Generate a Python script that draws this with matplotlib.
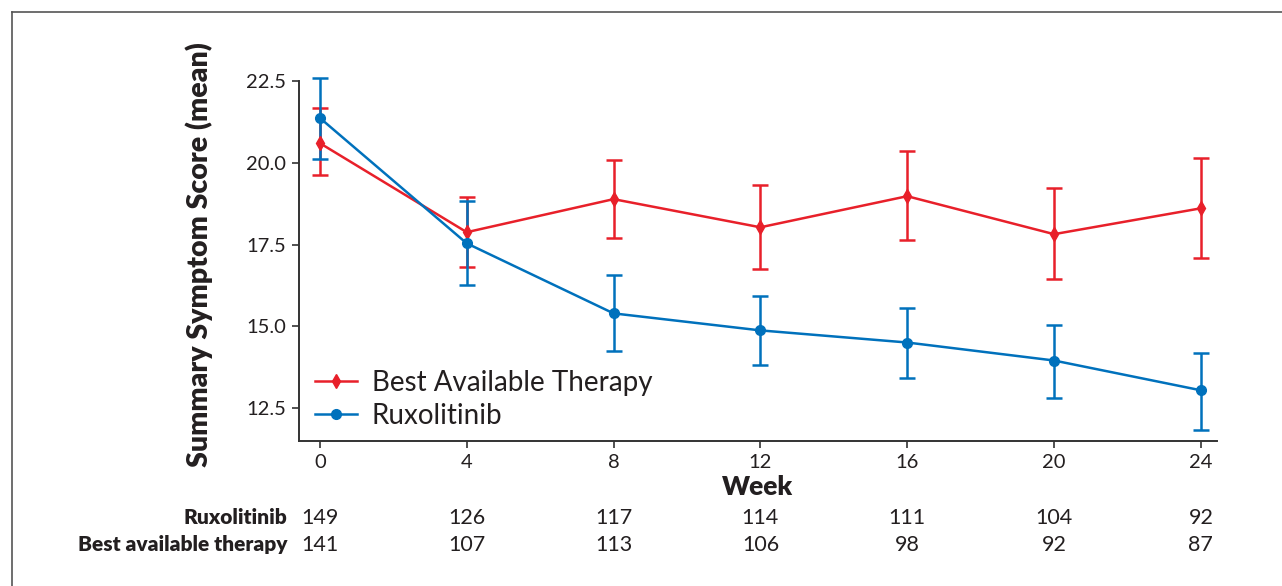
import matplotlib
matplotlib.use('Agg')
import matplotlib.pyplot as plt
from matplotlib.lines import Line2D

plt.rcParams['font.family'] = ['Lato', 'DejaVu Sans']

# Data
weeks = [0, 4, 8, 12, 16, 20, 24]

rux_mean = [21.37, 17.54, 15.40, 14.88, 14.51, 13.96, 13.05]
rux_upper = [22.59, 18.83, 16.56, 15.92, 15.55, 15.06, 14.18]
rux_lower = [20.11, 16.26, 14.24, 13.81, 13.44, 12.80, 11.85]

bat_mean = [20.60, 17.88, 18.89, 18.03, 18.98, 17.82, 18.61]
bat_upper = [21.67, 18.95, 20.08, 19.32, 20.36, 19.23, 20.14]
bat_lower = [19.62, 16.82, 17.70, 16.75, 17.63, 16.44, 17.08]

rux_n = [149, 126, 117, 114, 111, 104, 92]
bat_n = [141, 107, 113, 106, 98, 92, 87]

yticks = [12.5, 15.0, 17.5, 20.0, 22.5]

red = '#E8202A'
blue = '#0071BC'
dark = '#231F20'

fig = plt.figure(figsize=(12.82, 5.86), dpi=100)
ax = fig.add_axes([0.2332, 0.2474, 0.9493 - 0.2332, 0.8618 - 0.2474])

# frame around the figure (top and left edges visible)
fig.add_artist(Line2D([12 / 1282, 1.0], [1 - 12 / 586, 1 - 12 / 586],
                      transform=fig.transFigure, color='#555555', lw=1.2))
fig.add_artist(Line2D([12 / 1282, 12 / 1282], [0.0, 1 - 12 / 586],
                      transform=fig.transFigure, color='#555555', lw=1.2))

bat_err = [[m - l for m, l in zip(bat_mean, bat_lower)],
           [u - m for m, u in zip(bat_mean, bat_upper)]]
rux_err = [[m - l for m, l in zip(rux_mean, rux_lower)],
           [u - m for m, u in zip(rux_mean, rux_upper)]]

eb1 = ax.errorbar(weeks, bat_mean, yerr=bat_err, color=red, lw=1.8,
                  marker='d', markersize=7, capsize=6, capthick=1.8,
                  elinewidth=1.8, clip_on=False)
eb2 = ax.errorbar(weeks, rux_mean, yerr=rux_err, color=blue, lw=1.8,
                  marker='o', markersize=7, capsize=6, capthick=1.8,
                  elinewidth=1.8, clip_on=False)
for eb in (eb1, eb2):
    for art in eb.lines[1] + eb.lines[2]:
        art.set_clip_on(False)

ax.set_xlim(-0.57, 24.44)
ax.set_ylim(11.5, 22.5)
ax.set_xticks(weeks)
ax.set_yticks(yticks)
ax.set_yticklabels([f'{v:.1f}' for v in yticks])

for s in ['top', 'right']:
    ax.spines[s].set_visible(False)
for s in ['left', 'bottom']:
    ax.spines[s].set_color('#333333')
    ax.spines[s].set_linewidth(1.4)
ax.tick_params(direction='out', length=5, width=1.2, color='#333333',
               labelsize=14.5, labelcolor=dark, pad=4)

ax.set_xlabel('Week', fontsize=19, fontweight='heavy', color=dark, labelpad=3)
ax.set_ylabel('Summary Symptom Score (mean)', fontsize=20.5, fontweight='heavy',
              color=dark)
ax.yaxis.set_label_coords(-0.094, 0.517)

leg_handles = [Line2D([], [], color=red, lw=1.8, marker='d', markersize=7),
               Line2D([], [], color=blue, lw=1.8, marker='o', markersize=7)]
ax.legend(leg_handles, ['Best Available Therapy', 'Ruxolitinib'],
          loc='lower left', bbox_to_anchor=(0.0174, 0.033), frameon=False,
          borderpad=0, borderaxespad=0,
          fontsize=20, handlelength=1.5, handletextpad=0.55, labelspacing=0.25,
          labelcolor=dark)

# number-at-risk table
row_y = [518, 545]
for yy, label, counts in zip(row_y, ['Ruxolitinib', 'Best available therapy'],
                             [rux_n, bat_n]):
    yfig = 1 - yy / 586
    fig.text(287 / 1282, yfig, label, ha='right', va='center', fontsize=15,
             fontweight='heavy', color=dark)
    for w, n in zip(weeks, counts):
        xd = ax.transData.transform((w, 0))[0]
        fig.text(xd / 1282, yfig, str(n), ha='center', va='center',
                 fontsize=15.5, color=dark)

fig.savefig('out.png', dpi=100)
